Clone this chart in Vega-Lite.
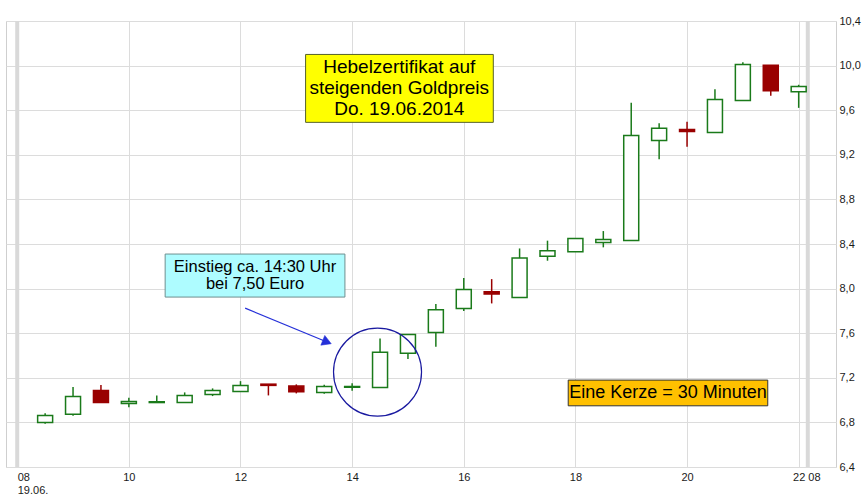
{
  "$schema": "https://vega.github.io/schema/vega-lite/v6.json",
  "width": 830,
  "height": 446,
  "autosize": "none",
  "padding": {"left": 6, "top": 21, "right": 27, "bottom": 27},
  "background": "white",
  "config": {
    "view": {"stroke": "#cfcfcf", "strokeWidth": 1},
    "font": "Liberation Sans",
    "axisX": {
      "title": null,
      "labelBaseline": "top",
      "labelFont": "Liberation Sans",
      "labelFontSize": 11,
      "labelLineHeight": 13,
      "labelColor": "#1a1a1a",
      "labelPadding": 4,
      "labelOverlap": false,
      "labelFlush": false,
      "labelBound": false,
      "domain": false,
      "ticks": false,
      "grid": true,
      "gridColor": "#dcdcdc",
      "gridWidth": 1
    },
    "axisY": {
      "title": null,
      "labelFont": "Liberation Sans",
      "labelFontSize": 11,
      "labelColor": "#1a1a1a",
      "labelPadding": 3,
      "labelFlush": false,
      "labelBound": false,
      "labelOverlap": false,
      "domain": false,
      "ticks": false,
      "grid": true,
      "gridColor": "#dcdcdc",
      "gridWidth": 1
    }
  },
  "datasets": {
    "sessions": [{"t": 8}, {"t": 22.163}],
    "candles": [
      {"t": 8.5, "o": 6.800, "h": 6.881, "l": 6.788, "c": 6.863},
      {"t": 9.0, "o": 6.872, "h": 7.117, "l": 6.859, "c": 7.033},
      {"t": 9.5, "o": 7.087, "h": 7.135, "l": 6.979, "c": 6.979},
      {"t": 10.0, "o": 6.970, "h": 7.020, "l": 6.935, "c": 6.988},
      {"t": 10.5, "o": 6.978, "h": 7.042, "l": 6.978, "c": 6.985},
      {"t": 11.0, "o": 6.979, "h": 7.069, "l": 6.979, "c": 7.042},
      {"t": 11.5, "o": 7.051, "h": 7.105, "l": 7.036, "c": 7.087},
      {"t": 12.0, "o": 7.078, "h": 7.170, "l": 7.078, "c": 7.132},
      {"t": 12.5, "o": 7.143, "h": 7.143, "l": 7.042, "c": 7.132},
      {"t": 13.0, "o": 7.126, "h": 7.141, "l": 7.060, "c": 7.075},
      {"t": 13.5, "o": 7.069, "h": 7.137, "l": 7.056, "c": 7.123},
      {"t": 14.0, "o": 7.115, "h": 7.150, "l": 7.083, "c": 7.122},
      {"t": 14.5, "o": 7.114, "h": 7.553, "l": 7.114, "c": 7.430},
      {"t": 15.0, "o": 7.421, "h": 7.589, "l": 7.368, "c": 7.589},
      {"t": 15.5, "o": 7.607, "h": 7.861, "l": 7.478, "c": 7.810},
      {"t": 16.0, "o": 7.822, "h": 8.094, "l": 7.800, "c": 7.993},
      {"t": 16.5, "o": 7.971, "h": 8.085, "l": 7.867, "c": 7.951},
      {"t": 17.0, "o": 7.921, "h": 8.360, "l": 7.921, "c": 8.274},
      {"t": 17.5, "o": 8.290, "h": 8.430, "l": 8.250, "c": 8.340},
      {"t": 18.0, "o": 8.330, "h": 8.450, "l": 8.330, "c": 8.450},
      {"t": 18.5, "o": 8.414, "h": 8.516, "l": 8.370, "c": 8.441},
      {"t": 19.0, "o": 8.432, "h": 9.666, "l": 8.432, "c": 9.374},
      {"t": 19.5, "o": 9.329, "h": 9.484, "l": 9.159, "c": 9.437},
      {"t": 20.0, "o": 9.428, "h": 9.496, "l": 9.272, "c": 9.410},
      {"t": 20.5, "o": 9.400, "h": 9.789, "l": 9.400, "c": 9.697},
      {"t": 21.0, "o": 9.688, "h": 10.031, "l": 9.688, "c": 10.010},
      {"t": 21.5, "o": 10.004, "h": 10.004, "l": 9.729, "c": 9.774},
      {"t": 22.0, "o": 9.765, "h": 9.828, "l": 9.621, "c": 9.813}
    ]
  },
  "layer": [
    {
      "data": {"name": "sessions"},
      "mark": {"type": "rule", "stroke": "#d9d9d9", "strokeWidth": 4},
      "encoding": {
        "x": {
          "field": "t", "type": "quantitative", "title": null,
          "scale": {"domain": [7.8885, 22.579], "zero": false, "nice": false},
          "axis": {"title": null, "values": [8, 10, 12, 14, 16, 18, 20, 22, 22.163], "labelExpr": "datum.value == 8 ? ['08', '19.06.'] : (datum.value > 22.1 ? '08' : '' + datum.value)", "labelAlign": {"condition": {"test": "datum.value < 9 || datum.value > 22.1", "value": "left"}, "value": "center"}}
        }
      }
    },
    {
      "data": {"name": "candles"},
      "mark": {"type": "rule", "strokeWidth": 1.5},
      "encoding": {
        "x": {"field": "t", "type": "quantitative", "title": null, "scale": {"domain": [7.8885, 22.579], "zero": false, "nice": false},
          "axis": {"title": null, "values": [8, 10, 12, 14, 16, 18, 20, 22, 22.163], "labelExpr": "datum.value == 8 ? ['08', '19.06.'] : (datum.value > 22.1 ? '08' : '' + datum.value)", "labelAlign": {"condition": {"test": "datum.value < 9 || datum.value > 22.1", "value": "left"}, "value": "center"}}},
        "y": {"field": "l", "type": "quantitative", "title": null, "scale": {"domain": [6.4, 10.4], "zero": false, "nice": false},
          "axis": {"title": null, "orient": "right", "values": [6.4, 6.8, 7.2, 7.6, 8.0, 8.4, 8.8, 9.2, 9.6, 10.0, 10.4], "labelExpr": "replace(format(datum.value, '.1f'), '.', ',')"}},
        "y2": {"field": "h"},
        "stroke": {"condition": {"test": "datum.c < datum.o", "value": "#990000"}, "value": "#1a7a1a"}
      }
    },
    {
      "data": {"name": "candles"},
      "mark": {"type": "bar", "width": 15, "strokeWidth": 1.5},
      "encoding": {
        "x": {"field": "t", "type": "quantitative", "title": null, "scale": {"domain": [7.8885, 22.579], "zero": false, "nice": false},
          "axis": {"title": null, "values": [8, 10, 12, 14, 16, 18, 20, 22, 22.163], "labelExpr": "datum.value == 8 ? ['08', '19.06.'] : (datum.value > 22.1 ? '08' : '' + datum.value)", "labelAlign": {"condition": {"test": "datum.value < 9 || datum.value > 22.1", "value": "left"}, "value": "center"}}},
        "y": {"field": "o", "type": "quantitative", "title": null, "scale": {"domain": [6.4, 10.4], "zero": false, "nice": false},
          "axis": {"title": null, "orient": "right", "values": [6.4, 6.8, 7.2, 7.6, 8.0, 8.4, 8.8, 9.2, 9.6, 10.0, 10.4], "labelExpr": "replace(format(datum.value, '.1f'), '.', ',')"}},
        "y2": {"field": "c"},
        "fill": {"condition": {"test": "datum.c < datum.o", "value": "#990000"}, "value": "#ffffff"},
        "stroke": {"condition": {"test": "datum.c < datum.o", "value": "#990000"}, "value": "#1a7a1a"}
      }
    },
    {
      "data": {"values": [{"x1": 13.166, "x2": 16.529, "y1": 10.100, "y2": 9.491}]},
      "mark": {"type": "rect", "fill": "#ffff00", "stroke": "#55612a", "strokeWidth": 1},
      "encoding": {
        "x": {"field": "x1", "type": "quantitative", "title": null, "scale": {"domain": [7.8885, 22.579], "zero": false, "nice": false},
          "axis": {"title": null, "values": [8, 10, 12, 14, 16, 18, 20, 22, 22.163], "labelExpr": "datum.value == 8 ? ['08', '19.06.'] : (datum.value > 22.1 ? '08' : '' + datum.value)", "labelAlign": {"condition": {"test": "datum.value < 9 || datum.value > 22.1", "value": "left"}, "value": "center"}}},
        "x2": {"field": "x2"},
        "y": {"field": "y1", "type": "quantitative", "title": null, "scale": {"domain": [6.4, 10.4], "zero": false, "nice": false},
          "axis": {"title": null, "orient": "right", "values": [6.4, 6.8, 7.2, 7.6, 8.0, 8.4, 8.8, 9.2, 9.6, 10.0, 10.4], "labelExpr": "replace(format(datum.value, '.1f'), '.', ',')"}},
        "y2": {"field": "y2"}
      }
    },
    {
      "data": {"values": [{"x": 14.844, "y": 9.7955, "label": "Hebelzertifikat auf\nsteigenden Goldpreis\nDo. 19.06.2014"}]},
      "mark": {"type": "text", "lineBreak": "\n", "fontSize": 19, "lineHeight": 21, "dy": -21, "font": "Liberation Sans", "color": "#000000", "align": "center", "baseline": "middle"},
      "encoding": {
        "x": {"field": "x", "type": "quantitative", "title": null, "scale": {"domain": [7.8885, 22.579], "zero": false, "nice": false},
          "axis": {"title": null, "values": [8, 10, 12, 14, 16, 18, 20, 22, 22.163], "labelExpr": "datum.value == 8 ? ['08', '19.06.'] : (datum.value > 22.1 ? '08' : '' + datum.value)", "labelAlign": {"condition": {"test": "datum.value < 9 || datum.value > 22.1", "value": "left"}, "value": "center"}}},
        "y": {"field": "y", "type": "quantitative", "title": null, "scale": {"domain": [6.4, 10.4], "zero": false, "nice": false},
          "axis": {"title": null, "orient": "right", "values": [6.4, 6.8, 7.2, 7.6, 8.0, 8.4, 8.8, 9.2, 9.6, 10.0, 10.4], "labelExpr": "replace(format(datum.value, '.1f'), '.', ',')"}},
        "text": {"field": "label"}
      }
    },
    {
      "data": {"values": [{"x1": 10.650, "x2": 13.871, "y1": 8.310, "y2": 7.924}]},
      "mark": {"type": "rect", "fill": "#aefcff", "stroke": "#6f8f8f", "strokeWidth": 1},
      "encoding": {
        "x": {"field": "x1", "type": "quantitative", "title": null, "scale": {"domain": [7.8885, 22.579], "zero": false, "nice": false},
          "axis": {"title": null, "values": [8, 10, 12, 14, 16, 18, 20, 22, 22.163], "labelExpr": "datum.value == 8 ? ['08', '19.06.'] : (datum.value > 22.1 ? '08' : '' + datum.value)", "labelAlign": {"condition": {"test": "datum.value < 9 || datum.value > 22.1", "value": "left"}, "value": "center"}}},
        "x2": {"field": "x2"},
        "y": {"field": "y1", "type": "quantitative", "title": null, "scale": {"domain": [6.4, 10.4], "zero": false, "nice": false},
          "axis": {"title": null, "orient": "right", "values": [6.4, 6.8, 7.2, 7.6, 8.0, 8.4, 8.8, 9.2, 9.6, 10.0, 10.4], "labelExpr": "replace(format(datum.value, '.1f'), '.', ',')"}},
        "y2": {"field": "y2"}
      }
    },
    {
      "data": {"values": [{"x": 12.260, "y": 8.117, "label": "Einstieg ca. 14:30 Uhr\nbei 7,50 Euro"}]},
      "mark": {"type": "text", "lineBreak": "\n", "fontSize": 16.5, "lineHeight": 17.5, "dy": -8.75, "font": "Liberation Sans", "color": "#000000", "align": "center", "baseline": "middle"},
      "encoding": {
        "x": {"field": "x", "type": "quantitative", "title": null, "scale": {"domain": [7.8885, 22.579], "zero": false, "nice": false},
          "axis": {"title": null, "values": [8, 10, 12, 14, 16, 18, 20, 22, 22.163], "labelExpr": "datum.value == 8 ? ['08', '19.06.'] : (datum.value > 22.1 ? '08' : '' + datum.value)", "labelAlign": {"condition": {"test": "datum.value < 9 || datum.value > 22.1", "value": "left"}, "value": "center"}}},
        "y": {"field": "y", "type": "quantitative", "title": null, "scale": {"domain": [6.4, 10.4], "zero": false, "nice": false},
          "axis": {"title": null, "orient": "right", "values": [6.4, 6.8, 7.2, 7.6, 8.0, 8.4, 8.8, 9.2, 9.6, 10.0, 10.4], "labelExpr": "replace(format(datum.value, '.1f'), '.', ',')"}},
        "text": {"field": "label"}
      }
    },
    {
      "data": {"values": [{"x1": 12.083, "y1": 7.825, "x2": 13.550, "y2": 7.521}]},
      "mark": {"type": "rule", "stroke": "#2530d8", "strokeWidth": 1.2},
      "encoding": {
        "x": {"field": "x1", "type": "quantitative", "title": null, "scale": {"domain": [7.8885, 22.579], "zero": false, "nice": false},
          "axis": {"title": null, "values": [8, 10, 12, 14, 16, 18, 20, 22, 22.163], "labelExpr": "datum.value == 8 ? ['08', '19.06.'] : (datum.value > 22.1 ? '08' : '' + datum.value)", "labelAlign": {"condition": {"test": "datum.value < 9 || datum.value > 22.1", "value": "left"}, "value": "center"}}},
        "x2": {"field": "x2"},
        "y": {"field": "y1", "type": "quantitative", "title": null, "scale": {"domain": [6.4, 10.4], "zero": false, "nice": false},
          "axis": {"title": null, "orient": "right", "values": [6.4, 6.8, 7.2, 7.6, 8.0, 8.4, 8.8, 9.2, 9.6, 10.0, 10.4], "labelExpr": "replace(format(datum.value, '.1f'), '.', ',')"}},
        "y2": {"field": "y2"}
      }
    },
    {
      "data": {"values": [{"x": 13.550, "y": 7.521}]},
      "mark": {"type": "point", "shape": "triangle-right", "angle": 22, "size": 110, "filled": true, "fill": "#2530d8", "stroke": "#2530d8", "strokeWidth": 0.5, "opacity": 1},
      "encoding": {
        "x": {"field": "x", "type": "quantitative", "title": null, "scale": {"domain": [7.8885, 22.579], "zero": false, "nice": false},
          "axis": {"title": null, "values": [8, 10, 12, 14, 16, 18, 20, 22, 22.163], "labelExpr": "datum.value == 8 ? ['08', '19.06.'] : (datum.value > 22.1 ? '08' : '' + datum.value)", "labelAlign": {"condition": {"test": "datum.value < 9 || datum.value > 22.1", "value": "left"}, "value": "center"}}},
        "y": {"field": "y", "type": "quantitative", "title": null, "scale": {"domain": [6.4, 10.4], "zero": false, "nice": false},
          "axis": {"title": null, "orient": "right", "values": [6.4, 6.8, 7.2, 7.6, 8.0, 8.4, 8.8, 9.2, 9.6, 10.0, 10.4], "labelExpr": "replace(format(datum.value, '.1f'), '.', ',')"}}
      }
    },
    {
      "data": {"values": [{"x": 14.455, "y": 7.251}]},
      "mark": {"type": "point", "shape": "circle", "size": 7744, "filled": false, "stroke": "#1a1aa0", "strokeWidth": 1.2, "opacity": 1},
      "encoding": {
        "x": {"field": "x", "type": "quantitative", "title": null, "scale": {"domain": [7.8885, 22.579], "zero": false, "nice": false},
          "axis": {"title": null, "values": [8, 10, 12, 14, 16, 18, 20, 22, 22.163], "labelExpr": "datum.value == 8 ? ['08', '19.06.'] : (datum.value > 22.1 ? '08' : '' + datum.value)", "labelAlign": {"condition": {"test": "datum.value < 9 || datum.value > 22.1", "value": "left"}, "value": "center"}}},
        "y": {"field": "y", "type": "quantitative", "title": null, "scale": {"domain": [6.4, 10.4], "zero": false, "nice": false},
          "axis": {"title": null, "orient": "right", "values": [6.4, 6.8, 7.2, 7.6, 8.0, 8.4, 8.8, 9.2, 9.6, 10.0, 10.4], "labelExpr": "replace(format(datum.value, '.1f'), '.', ',')"}}
      }
    },
    {
      "data": {"values": [{"x1": 17.871, "x2": 21.446, "y1": 7.1794, "y2": 6.9489}]},
      "mark": {"type": "rect", "fill": "#ffc000", "stroke": "#333333", "strokeWidth": 1},
      "encoding": {
        "x": {"field": "x1", "type": "quantitative", "title": null, "scale": {"domain": [7.8885, 22.579], "zero": false, "nice": false},
          "axis": {"title": null, "values": [8, 10, 12, 14, 16, 18, 20, 22, 22.163], "labelExpr": "datum.value == 8 ? ['08', '19.06.'] : (datum.value > 22.1 ? '08' : '' + datum.value)", "labelAlign": {"condition": {"test": "datum.value < 9 || datum.value > 22.1", "value": "left"}, "value": "center"}}},
        "x2": {"field": "x2"},
        "y": {"field": "y1", "type": "quantitative", "title": null, "scale": {"domain": [6.4, 10.4], "zero": false, "nice": false},
          "axis": {"title": null, "orient": "right", "values": [6.4, 6.8, 7.2, 7.6, 8.0, 8.4, 8.8, 9.2, 9.6, 10.0, 10.4], "labelExpr": "replace(format(datum.value, '.1f'), '.', ',')"}},
        "y2": {"field": "y2"}
      }
    },
    {
      "data": {"values": [{"x": 19.658, "y": 7.064, "label": "Eine Kerze = 30 Minuten"}]},
      "mark": {"type": "text", "fontSize": 18, "font": "Liberation Sans", "color": "#000000", "align": "center", "baseline": "middle"},
      "encoding": {
        "x": {"field": "x", "type": "quantitative", "title": null, "scale": {"domain": [7.8885, 22.579], "zero": false, "nice": false},
          "axis": {"title": null, "values": [8, 10, 12, 14, 16, 18, 20, 22, 22.163], "labelExpr": "datum.value == 8 ? ['08', '19.06.'] : (datum.value > 22.1 ? '08' : '' + datum.value)", "labelAlign": {"condition": {"test": "datum.value < 9 || datum.value > 22.1", "value": "left"}, "value": "center"}}},
        "y": {"field": "y", "type": "quantitative", "title": null, "scale": {"domain": [6.4, 10.4], "zero": false, "nice": false},
          "axis": {"title": null, "orient": "right", "values": [6.4, 6.8, 7.2, 7.6, 8.0, 8.4, 8.8, 9.2, 9.6, 10.0, 10.4], "labelExpr": "replace(format(datum.value, '.1f'), '.', ',')"}},
        "text": {"field": "label"}
      }
    }
  ]
}
